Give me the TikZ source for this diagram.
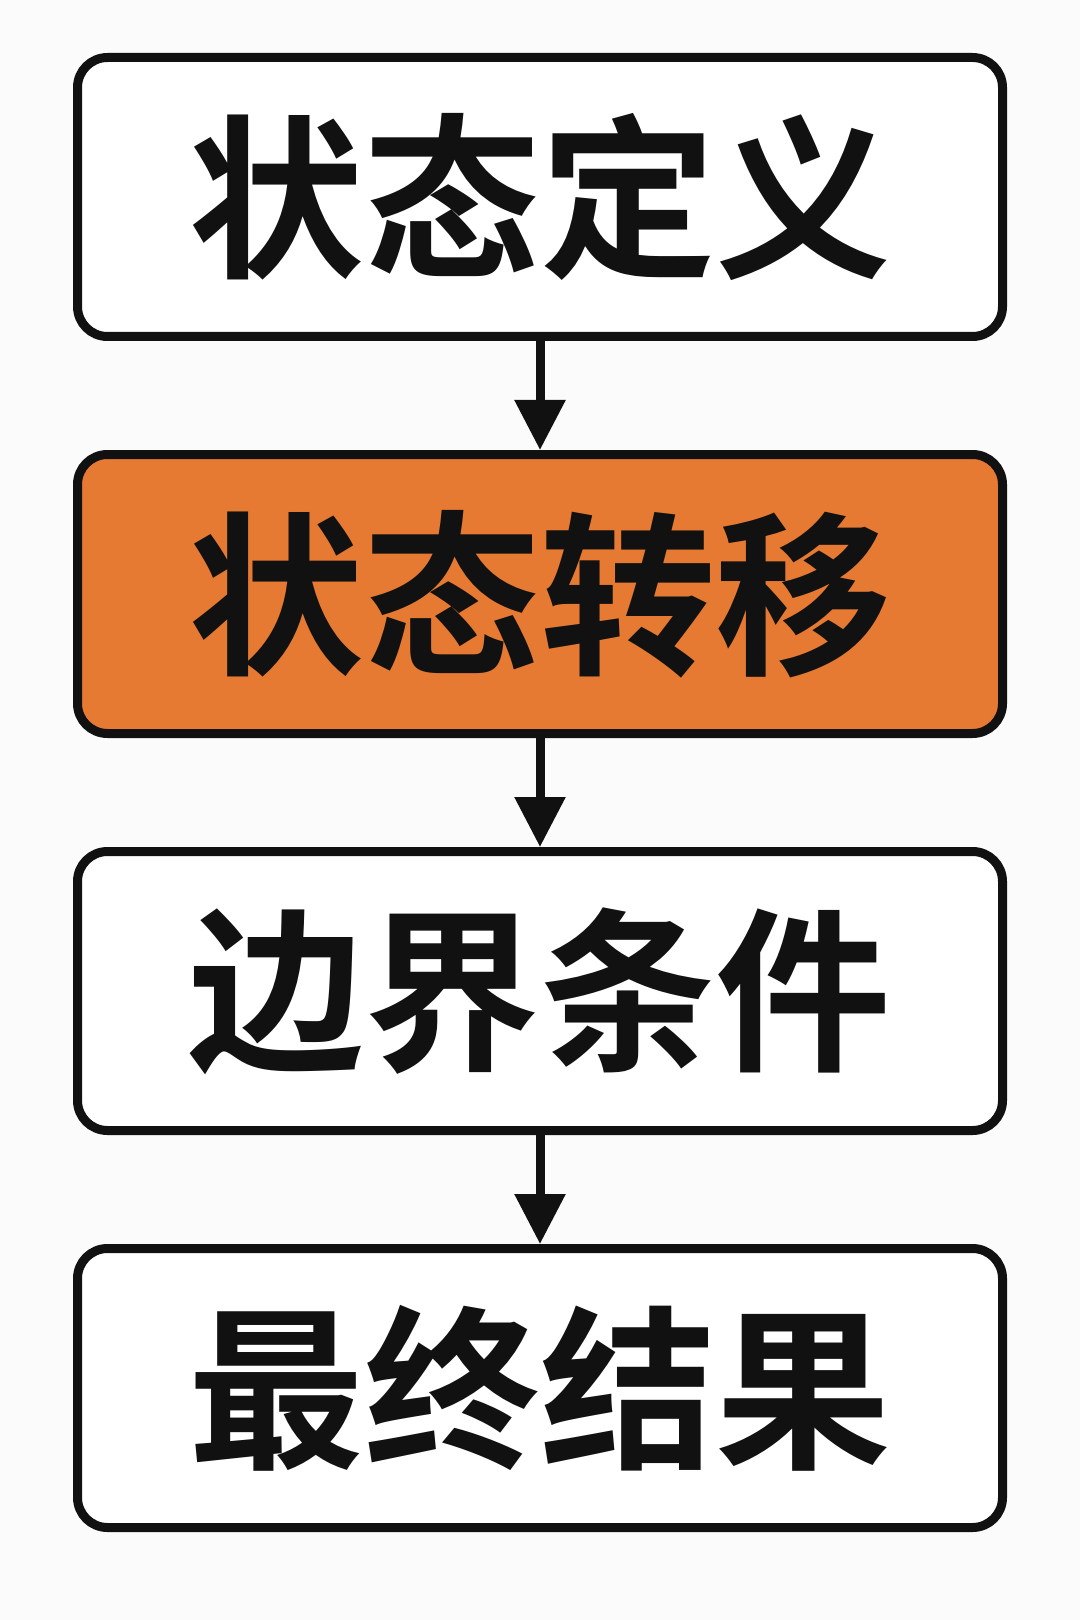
\documentclass[tikz,border=0pt]{standalone}
\usepackage{fontspec}
\setmainfont{Noto Sans CJK SC}[BoldFont={* Bold}]
\usetikzlibrary{arrows.meta,positioning}
\definecolor{Ink}{HTML}{111111}
\definecolor{Tang}{HTML}{E67A33}
\definecolor{Paper}{HTML}{FBFBFB}

\begin{document}
\begin{tikzpicture}[
      >={Triangle[length=0.5cm,width=0.49cm]},
      box/.style={draw=Ink, line width=0.09cm, rounded corners=0.3cm, fill=white,
                  minimum width=9.25cm, minimum height=2.79cm,
                  align=center, font=\bfseries\fontsize{50}{60}\selectfont, text=Ink},
      node distance=1.09cm
    ]
      \fill[Paper] (0,0) rectangle (10.8,-16.2);
      \useasboundingbox (0,0) rectangle (10.8,-16.2);
      \node[box] (a) at (5.4,-1.97) {状态定义};
      \node[box, fill=Tang, below=of a] (b) {状态转移};
      \node[box, below=of b] (c) {边界条件};
      \node[box, below=of c] (d) {最终结果};
      \draw[->, line width=0.09cm, Ink] (a) -- (b);
      \draw[->, line width=0.09cm, Ink] (b) -- (c);
      \draw[->, line width=0.09cm, Ink] (c) -- (d);
    \end{tikzpicture}
\end{document}
